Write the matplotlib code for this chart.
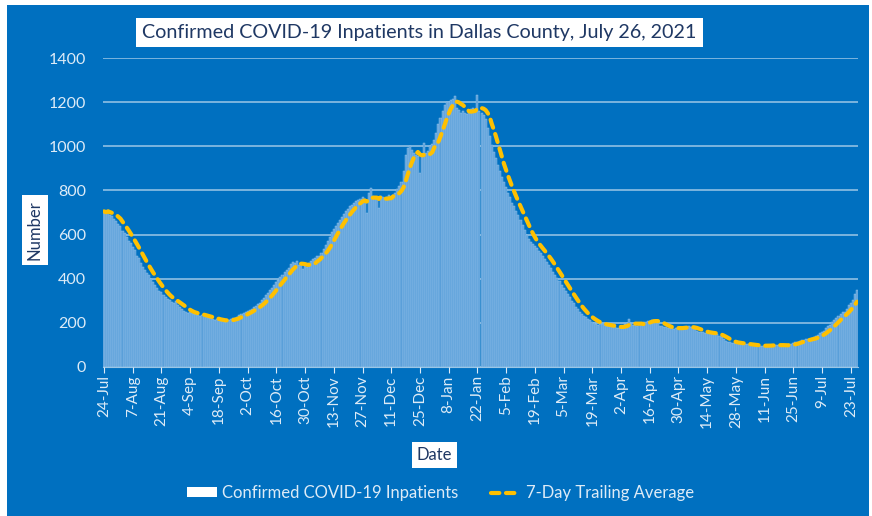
import matplotlib.pyplot as plt
import matplotlib.patches as mpatches
from matplotlib.lines import Line2D
import pandas as pd

# Daily confirmed COVID-19 inpatients, Dallas County, from 24-Jul-2020 (one row per week)
start_date = "2020-07-24"
inpatients = [
    705, 698, 712, 690, 684, 670, 662,
    648, 640, 618, 605, 590, 572, 560,
    545, 528, 505, 492, 470, 455, 440,
    428, 415, 398, 385, 372, 356, 345,
    338, 326, 315, 310, 302, 296, 290,
    298, 282, 270, 262, 255, 250, 246,
    248, 244, 238, 240, 236, 232, 235,
    230, 226, 222, 220, 218, 214, 216,
    212, 208, 210, 206, 212, 215, 218,
    220, 224, 228, 234, 238, 244, 250,
    254, 258, 264, 272, 278, 285, 292,
    302, 312, 325, 336, 348, 360, 372,
    385, 395, 408, 418, 430, 440, 448,
    468, 476, 472, 480, 462, 470, 445,
    458, 455, 470, 480, 488, 495, 505,
    505, 518, 535, 552, 570, 590, 612,
    625, 640, 652, 668, 680, 695, 708,
    716, 728, 735, 745, 752, 758, 762,
    770, 760, 700, 790, 810, 775, 768,
    768, 720, 775, 770, 765, 772, 780,
    772, 780, 790, 805, 820, 840, 890,
    960, 990, 1000, 985, 970, 960, 955,
    880, 962, 1014, 968, 980, 1000, 1010,
    1030, 1060, 1100, 1130, 1160, 1185, 1200,
    1200, 1210, 1215, 1228, 1175, 1165, 1150,
    1160, 1150, 1145, 1160, 1170, 1175, 1165,
    1232, 1160, 1150, 1140, 1125, 1085, 1045,
    1005, 975, 945, 915, 890, 862, 838,
    815, 790, 768, 745, 728, 708, 688,
    668, 645, 622, 600, 582, 568, 556,
    548, 538, 526, 515, 502, 490, 475,
    462, 448, 432, 418, 402, 388, 372,
    358, 344, 330, 315, 300, 288, 272,
    262, 250, 240, 232, 225, 218, 212,
    206, 200, 196, 192, 194, 195, 190,
    186, 188, 184, 180, 182, 178, 177,
    182, 188, 194, 198, 218, 195, 192,
    190, 186, 195, 200, 202, 206, 208,
    210, 214, 212, 205, 200, 188, 186,
    182, 180, 178, 176, 175, 172, 175,
    178, 180, 178, 182, 183, 185, 180,
    176, 170, 163, 160, 158, 158, 156,
    155, 154, 152, 150, 150, 148, 140,
    135, 125, 118, 115, 112, 110, 108,
    110, 108, 106, 105, 104, 102, 102,
    100, 98, 98, 96, 95, 95, 96,
    97, 98, 97, 100, 100, 101, 99,
    99, 97, 98, 97, 98, 102, 104,
    108, 112, 114, 119, 122, 124, 125,
    126, 128, 130, 134, 140, 145, 155,
    160, 165, 175, 185, 190, 205, 215,
    221, 232, 240, 248, 250, 265, 280,
    292, 305, 330, 348,
]

title = "Confirmed COVID-19 Inpatients in Dallas County, July 26, 2021"
bar_label = "Confirmed COVID-19 Inpatients"
avg_label = "7-Day Trailing Average"

dates = pd.date_range(start_date, periods=len(inpatients), freq="D")
trailing_avg = pd.Series(inpatients, index=dates).rolling(7, min_periods=1).mean()

bg = "#0070C0"
light = "#DDEBF7"
navy = "#1F3864"
gold = "#FFC000"

plt.rcParams["font.family"] = ["Lato", "DejaVu Sans"]

fig = plt.figure(figsize=(8.72, 5.16), dpi=100, facecolor="white")
fig.add_artist(mpatches.Rectangle((7 / 872, 0), 862 / 872, 511 / 516,
                                  transform=fig.transFigure, facecolor=bg,
                                  edgecolor="none", zorder=0))

ax = fig.add_axes([103 / 872, 149 / 516, 755 / 872, 309 / 516])
ax.set_facecolor("none")

ax.bar(dates, inpatients, width=1.0, color="#5A9FD9", edgecolor="#9CC8EE",
       linewidth=0.3, zorder=2)
ax.plot(dates, trailing_avg, color=gold, lw=3, dashes=(2.0, 1.6),
        dash_capstyle="round", zorder=3)

ax.set_ylim(0, 1400)
ax.set_yticks(range(0, 1401, 200))
ax.set_xlim(dates[0] - pd.Timedelta(hours=12), dates[-1] + pd.Timedelta(hours=12))
ticks = dates[::14]
ax.set_xticks(ticks)
ax.set_xticklabels([f"{d.day}-{d.strftime('%b')}" for d in ticks])

ax.grid(axis="y", color=light, alpha=0.7, lw=1.1, zorder=2.5)
for side in ["left", "right", "top"]:
    ax.spines[side].set_visible(False)
ax.spines["bottom"].set_color(light)
ax.spines["bottom"].set_alpha(0.7)
ax.tick_params(axis="y", length=0, pad=12, labelcolor=light, labelsize=11.5)
ax.tick_params(axis="x", length=4, color=light, pad=2, labelcolor=light,
               labelsize=11, labelrotation=90)

box = dict(boxstyle="square,pad=0.3", facecolor="white", edgecolor="none")
fig.text(419.5 / 872, 1 - 32.5 / 516, title, ha="center", va="center",
         fontsize=14.2, color=navy, bbox=box)
fig.text(34.5 / 872, 1 - 230 / 516, "Number", ha="center", va="center",
         rotation=90, fontsize=12, color=navy, bbox=box)
fig.text(434.5 / 872, 1 - 455 / 516, "Date", ha="center", va="center",
         fontsize=12, color=navy, bbox=box)

handles = [mpatches.Patch(facecolor="white", edgecolor="none"),
           Line2D([], [], color=gold, lw=3, dashes=(2.0, 1.6), dash_capstyle="round")]
fig.legend(handles, [bar_label, avg_label], loc="center",
           bbox_to_anchor=(440.5 / 872, 1 - 493 / 516), ncol=2, frameon=False,
           fontsize=12, labelcolor=light, handlelength=1.8, handleheight=0.5,
           handletextpad=0.3, columnspacing=2.0)

fig.savefig("out.png", dpi=100, facecolor="white")
